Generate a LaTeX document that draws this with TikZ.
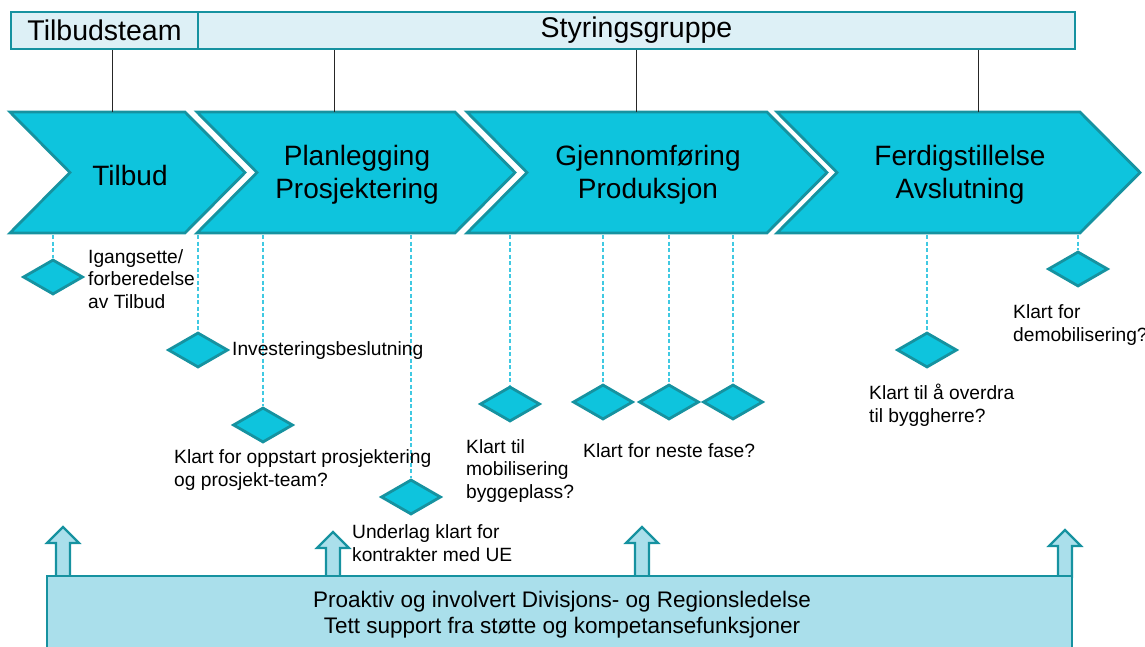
\documentclass[tikz,border=0pt]{standalone}
\usepackage{fontspec}
\setmainfont{Liberation Sans}
\usetikzlibrary{shapes.geometric}
\definecolor{cyanfill}{RGB}{14,196,221}
\definecolor{tealline}{RGB}{22,146,160}
\definecolor{hdrfill}{RGB}{221,240,246}
\definecolor{boxfill}{RGB}{170,223,235}
\definecolor{dashcol}{RGB}{64,201,226}
\begin{document}
\begin{tikzpicture}[x=1pt,y=-1pt,
  hdrbox/.style={draw=tealline, fill=hdrfill, line width=2.5pt, minimum height=37pt, inner sep=0pt, font=\fontsize{28.5}{32}\selectfont},
  chev/.style={draw=tealline, fill=cyanfill, line width=2.8pt, line join=miter},
  chevtext/.style={font=\fontsize{28}{32.5}\selectfont, align=center, inner sep=0pt},
  ms/.style={shape=diamond, draw=tealline, fill=cyanfill, line width=2.8pt, minimum width=60pt, minimum height=35pt, inner sep=0pt},
  lbl/.style={font=\fontsize{19.2}{22.5}\selectfont, align=left, anchor=west, inner sep=0pt},
  dline/.style={draw=dashcol, line width=1.2pt, dash pattern=on 4pt off 2.5pt},
  vline/.style={draw=black!85, line width=1pt},
  uparrow/.style={draw=tealline, fill=boxfill, line width=2.2pt, line join=miter},
  supbox/.style={draw=tealline, fill=boxfill, line width=2.5pt}
]
\useasboundingbox (0,0) rectangle (1145,646);

% header
\node[hdrbox, minimum width=187pt] (tb) at (104.5,30.5) {Tilbudsteam};
\node[hdrbox, minimum width=877pt] (sg) at (636.5,30.5) {Styringsgruppe};

% chevrons
\draw[chev] (10,112) -- (185,112) -- (245,172.5) -- (185,233) -- (10,233) -- (70,172.5) -- cycle;
\draw[chev] (197,112) -- (455,112) -- (515,172.5) -- (455,233) -- (197,233) -- (257,172.5) -- cycle;
\draw[chev] (467,112) -- (767,112) -- (827,172.5) -- (767,233) -- (467,233) -- (527,172.5) -- cycle;
\draw[chev] (777,112) -- (1080,112) -- (1140,172.5) -- (1080,233) -- (777,233) -- (837,172.5) -- cycle;

\node[chevtext] (p1) at (130,175) {Tilbud};
\node[chevtext] (p2) at (357,175) {Planlegging\\Prosjektering};
\node[chevtext] (p3) at (648,175) {Gjennomføring\\Produksjon};
\node[chevtext] (p4) at (960,175) {Ferdigstillelse\\Avslutning};

% header connectors
\coordinate (h1) at (112,112);
\coordinate (h2) at (334,112);
\coordinate (h3) at (636,112);
\coordinate (h4) at (978,112);
\draw[vline] (tb.south -| h1) -- (h1);
\draw[vline] (sg.south -| h2) -- (h2);
\draw[vline] (sg.south -| h3) -- (h3);
\draw[vline] (sg.south -| h4) -- (h4);

% milestones
\node[ms] (d1) at (53,277) {};
\node[ms] (d2) at (198,350) {};
\node[ms] (d3) at (263,425) {};
\node[ms] (d4) at (411,497) {};
\node[ms] (d5) at (510,404) {};
\node[ms] (d6) at (603,402) {};
\node[ms] (d7) at (669,402) {};
\node[ms] (d8) at (733,402) {};
\node[ms] (d9) at (927,350) {};
\node[ms] (d10) at (1078,269) {};

\coordinate (b1) at (53,235);
\coordinate (b2) at (198,235);
\coordinate (b3) at (263,235);
\coordinate (b4) at (411,235);
\coordinate (b5) at (510,235);
\coordinate (b6) at (603,235);
\coordinate (b7) at (669,235);
\coordinate (b8) at (733,235);
\coordinate (b9) at (927,235);
\coordinate (b10) at (1078,235);
\foreach \i in {1,...,10}{
  \draw[dline] (b\i) -- (d\i.north);
}

% labels
\node[lbl] (l1) at (88,279) {Igangsette/\\forberedelse\\av Tilbud};
\node[lbl] (l2) at (232,351) {Investeringsbeslutning};
\node[lbl] (l3) at (174,470) {Klart for oppstart prosjektering\\og prosjekt-team?};
\node[lbl] (l4) at (352,543) {Underlag klart for\\kontrakter med UE};
\node[lbl] (l5) at (466,471) {Klart til\\mobilisering\\byggeplass?};
\node[lbl] (l6) at (583,451) {Klart for neste fase?};
\node[lbl] (l7) at (869,405) {Klart til å overdra\\til byggherre?};
\node[lbl] (l8) at (1013,325) {Klart for\\demobilisering?};

% up arrows
\foreach \c/\t in {63/527, 333/532, 642/527, 1065/530}{
  \draw[uparrow] (\c-7,578) -- (\c-7,\t+16) -- (\c-16,\t+16) -- (\c,\t) -- (\c+16,\t+16) -- (\c+7,\t+16) -- (\c+7,578);
}

% support box
\draw[supbox] (47,576) rectangle (1072,660);
\node[font=\fontsize{22.5}{26}\selectfont, align=center, inner sep=0pt] (sup) at (562,615) {Proaktiv og involvert Divisjons- og Regionsledelse\\Tett support fra støtte og kompetansefunksjoner};
\end{tikzpicture}
\end{document}
